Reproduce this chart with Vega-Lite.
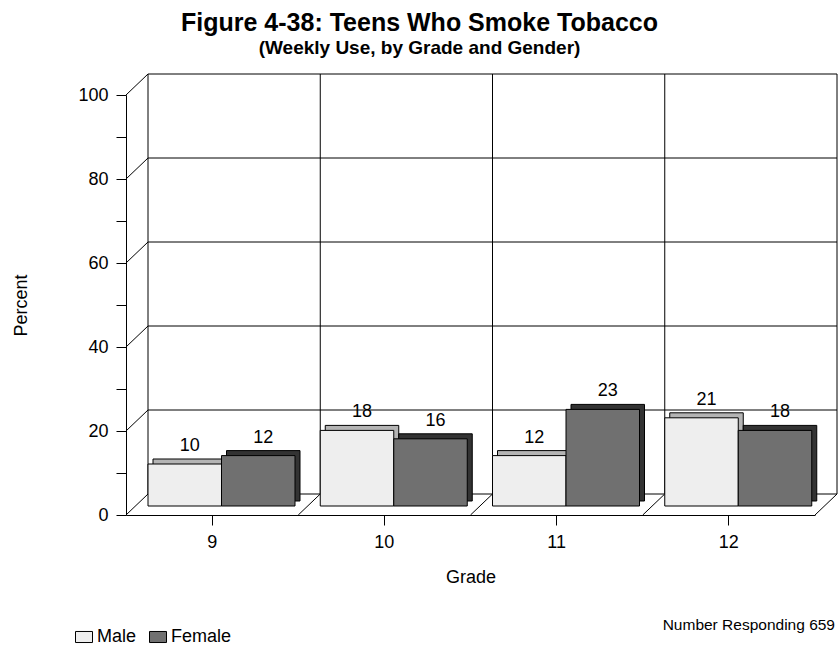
{
  "$schema": "https://vega.github.io/schema/vega-lite/v6.json",
  "width": 689,
  "height": 420,
  "autosize": {"type": "none"},
  "padding": {"left": 126, "top": 95, "right": 24, "bottom": 135},
  "background": "white",
  "config": {
    "view": {"stroke": null},
    "font": "Liberation Sans",
    "axis": {
      "domainColor": "black", "tickColor": "black", "labelColor": "black", "titleColor": "black",
      "labelFont": "Liberation Sans", "titleFont": "Liberation Sans",
      "labelFontSize": 18, "titleFontSize": 18, "titleFontWeight": "normal", "grid": false
    },
    "axisX": {"labelAngle": 0, "tickSize": 10, "labelPadding": 8, "titlePadding": 17},
    "axisY": {"tickSize": 10, "labelPadding": 8, "titlePadding": 47}
  },
  "title": {
    "text": "Figure 4-38: Teens Who Smoke Tobacco",
    "subtitle": "(Weekly Use, by Grade and Gender)",
    "font": "Liberation Sans", "subtitleFont": "Liberation Sans",
    "fontSize": 25, "subtitleFontSize": 19, "fontWeight": "bold", "subtitleFontWeight": "bold",
    "color": "black", "subtitleColor": "black",
    "anchor": "middle", "dx": -51, "offset": 16, "subtitlePadding": 3
  },
  "datasets": {
    "bars": [
      {"Grade": "9", "Gender": "Male", "value": 10},
      {"Grade": "9", "Gender": "Female", "value": 12},
      {"Grade": "10", "Gender": "Male", "value": 18},
      {"Grade": "10", "Gender": "Female", "value": 16},
      {"Grade": "11", "Gender": "Male", "value": 12},
      {"Grade": "11", "Gender": "Female", "value": 23},
      {"Grade": "12", "Gender": "Male", "value": 21},
      {"Grade": "12", "Gender": "Female", "value": 18}
    ],
    "wallH": [
      {"g1": "9", "g2": "12", "value": 0},
      {"g1": "9", "g2": "12", "value": 20},
      {"g1": "9", "g2": "12", "value": 40},
      {"g1": "9", "g2": "12", "value": 60},
      {"g1": "9", "g2": "12", "value": 80},
      {"g1": "9", "g2": "12", "value": 100}
    ],
    "wallV": [
      {"g1": "9", "v0": 0, "v1": 100},
      {"g1": "10", "v0": 0, "v1": 100},
      {"g1": "11", "v0": 0, "v1": 100},
      {"g1": "12", "v0": 0, "v1": 100}
    ],
    "wallVEnd": [{"g1": "12", "v0": 0, "v1": 100}],
    "diag": [
      {"g1": "9", "value": 0},
      {"g1": "9", "value": 20},
      {"g1": "9", "value": 40},
      {"g1": "9", "value": 60},
      {"g1": "9", "value": 80},
      {"g1": "9", "value": 100},
      {"g1": "10", "value": 0},
      {"g1": "11", "value": 0},
      {"g1": "12", "value": 0}
    ],
    "diagEnd": [{"g1": "12", "value": 0}],
    "note": [{"label": "Number Responding 659"}]
  },
  "layer": [
    {
      "data": {"name": "wallH"},
      "mark": {"type": "rule", "color": "black", "strokeWidth": 1, "xOffset": 22, "x2Offset": 22, "yOffset": -21, "y2Offset": -21},
      "encoding": {
        "x": {"field": "g1", "type": "ordinal", "title": "Grade", "bandPosition": 0, "scale": {"domain": ["9", "10", "11", "12"], "paddingInner": 0, "paddingOuter": 0}},
        "x2": {"field": "g2", "bandPosition": 1},
        "y": {"field": "value", "type": "quantitative", "title": "Percent", "scale": {"domain": [0, 100], "nice": false}}
      }
    },
    {
      "data": {"name": "wallV"},
      "mark": {"type": "rule", "color": "black", "strokeWidth": 1, "xOffset": 22, "x2Offset": 22, "yOffset": -21, "y2Offset": -21},
      "encoding": {
        "x": {"field": "g1", "type": "ordinal", "title": "Grade", "bandPosition": 0, "scale": {"domain": ["9", "10", "11", "12"], "paddingInner": 0, "paddingOuter": 0}},
        "y": {"field": "v0", "type": "quantitative", "title": "Percent", "scale": {"domain": [0, 100], "nice": false}},
        "y2": {"field": "v1"}
      }
    },
    {
      "data": {"name": "wallVEnd"},
      "mark": {"type": "rule", "color": "black", "strokeWidth": 1, "xOffset": 22, "x2Offset": 22, "yOffset": -21, "y2Offset": -21},
      "encoding": {
        "x": {"field": "g1", "type": "ordinal", "title": "Grade", "bandPosition": 1, "scale": {"domain": ["9", "10", "11", "12"], "paddingInner": 0, "paddingOuter": 0}},
        "y": {"field": "v0", "type": "quantitative", "title": "Percent", "scale": {"domain": [0, 100], "nice": false}},
        "y2": {"field": "v1"}
      }
    },
    {
      "data": {"name": "diag"},
      "mark": {"type": "rule", "color": "black", "strokeWidth": 1, "x2Offset": 22, "y2Offset": -21},
      "encoding": {
        "x": {"field": "g1", "type": "ordinal", "title": "Grade", "bandPosition": 0, "scale": {"domain": ["9", "10", "11", "12"], "paddingInner": 0, "paddingOuter": 0}},
        "x2": {"field": "g1", "bandPosition": 0},
        "y": {"field": "value", "type": "quantitative", "title": "Percent", "scale": {"domain": [0, 100], "nice": false}},
        "y2": {"field": "value"}
      }
    },
    {
      "data": {"name": "diagEnd"},
      "mark": {"type": "rule", "color": "black", "strokeWidth": 1, "x2Offset": 22, "y2Offset": -21},
      "encoding": {
        "x": {"field": "g1", "type": "ordinal", "title": "Grade", "bandPosition": 1, "scale": {"domain": ["9", "10", "11", "12"], "paddingInner": 0, "paddingOuter": 0}},
        "x2": {"field": "g1", "bandPosition": 1},
        "y": {"field": "value", "type": "quantitative", "title": "Percent", "scale": {"domain": [0, 100], "nice": false}},
        "y2": {"field": "value"}
      }
    },
    {
      "data": {"name": "bars"},
      "mark": {"type": "bar", "stroke": "black", "strokeWidth": 1, "yOffset": -14, "y2Offset": -14},
      "encoding": {
        "x": {"field": "Grade", "type": "ordinal", "title": "Grade", "scale": {"domain": ["9", "10", "11", "12"], "paddingInner": 0, "paddingOuter": 0}},
        "xOffset": {"field": "Gender", "type": "nominal", "scale": {"domain": ["Male", "Female"], "range": [27, 174], "paddingInner": 0, "paddingOuter": 0}},
        "y": {"field": "value", "type": "quantitative", "title": "Percent", "scale": {"domain": [0, 100], "nice": false}},
        "fill": {"condition": {"test": "datum.Gender === 'Male'", "value": "#b4b4b4"}, "value": "#333333"}
      }
    },
    {
      "data": {"name": "bars"},
      "mark": {"type": "bar", "stroke": "black", "strokeWidth": 1, "yOffset": -9, "y2Offset": -9},
      "encoding": {
        "x": {"field": "Grade", "type": "ordinal", "title": "Grade", "scale": {"domain": ["9", "10", "11", "12"], "paddingInner": 0, "paddingOuter": 0}},
        "xOffset": {"field": "Gender", "type": "nominal", "scale": {"domain": ["Male", "Female"], "range": [22, 169], "paddingInner": 0, "paddingOuter": 0}},
        "y": {
          "field": "value", "type": "quantitative", "title": "Percent",
          "scale": {"domain": [0, 100], "nice": false},
          "axis": {
            "values": [0, 5, 10, 15, 20, 25, 30, 35, 40, 45, 50, 55, 60, 65, 70, 75, 80, 85, 90, 95, 100],
            "labelExpr": "datum.value % 20 === 0 ? datum.label : ''"
          }
        },
        "fill": {
          "field": "Gender", "type": "nominal",
          "scale": {"domain": ["Male", "Female"], "range": ["#eeeeee", "#707070"]},
          "legend": {
            "title": null, "orient": "none", "legendX": -51, "legendY": 533, "direction": "horizontal",
            "labelFontSize": 18, "labelFont": "Liberation Sans", "labelColor": "black",
            "symbolType": "M-1,-0.65H1V0.65H-1Z", "symbolSize": 289,
            "symbolStrokeColor": "black", "symbolStrokeWidth": 1,
            "columnPadding": 10, "labelOffset": 4
          }
        }
      }
    },
    {
      "data": {"name": "bars"},
      "mark": {"type": "text", "fontSize": 18, "font": "Liberation Sans", "color": "black", "baseline": "alphabetic", "align": "center", "dx": 5, "dy": -22},
      "encoding": {
        "x": {"field": "Grade", "type": "ordinal", "title": "Grade", "scale": {"domain": ["9", "10", "11", "12"], "paddingInner": 0, "paddingOuter": 0}},
        "xOffset": {"field": "Gender", "type": "nominal", "scale": {"domain": ["Male", "Female"], "range": [58.75, 132.25], "padding": 0}},
        "y": {"field": "value", "type": "quantitative", "title": "Percent", "scale": {"domain": [0, 100], "nice": false}},
        "text": {"field": "value", "type": "quantitative"}
      }
    },
    {
      "data": {"name": "note"},
      "mark": {"type": "text", "fontSize": 15.5, "font": "Liberation Sans", "color": "black", "align": "right", "baseline": "middle", "dx": 20, "dy": 110},
      "encoding": {
        "x": {"value": "width"},
        "y": {"value": "height"},
        "text": {"field": "label"}
      }
    }
  ],
  "resolve": {"scale": {"xOffset": "independent"}}
}
